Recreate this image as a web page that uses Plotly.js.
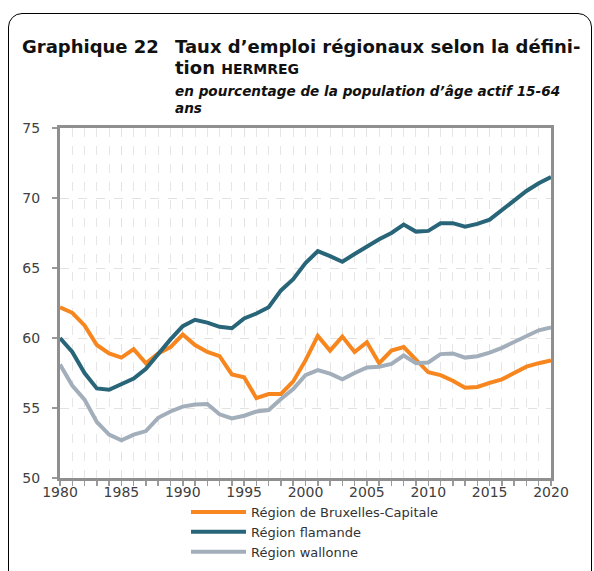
<!DOCTYPE html>
<html>
<head>
<meta charset="utf-8">
<script src="https://cdn.plot.ly/plotly-3.0.1.min.js"></script>
<style>
  html, body { margin: 0; padding: 0; background: #ffffff; }
  #wrap { position: relative; width: 594px; height: 571px; overflow: hidden; }
  #chart { position: absolute; left: 0; top: 0; width: 594px; height: 571px; }
  #frame { position: absolute; left: 8px; top: 13px; width: 582px; height: 640px;
           border: 1.5px solid #000; border-radius: 14px; pointer-events: none; z-index: 5; }
</style>
</head>
<body>
<div id="wrap">
  <div id="chart"></div>
  <div id="frame"></div>
</div>
<script>
// ---- data ----
const years = [1980,1981,1982,1983,1984,1985,1986,1987,1988,1989,
               1990,1991,1992,1993,1994,1995,1996,1997,1998,1999,
               2000,2001,2002,2003,2004,2005,2006,2007,2008,2009,
               2010,2011,2012,2013,2014,2015,2016,2017,2018,2019,2020];

const bruxelles = [62.2,61.8,60.9,59.5,58.9,58.6,59.2,58.2,58.9,59.35,
                   60.25,59.5,59.0,58.7,57.4,57.2,55.7,56.0,56.0,56.9,
                   58.4,60.15,59.1,60.1,59.0,59.7,58.2,59.1,59.35,58.4,
                   57.55,57.35,56.95,56.45,56.5,56.8,57.05,57.5,57.95,58.2,58.4];

const flamande = [60.0,59.0,57.5,56.4,56.3,56.7,57.1,57.8,58.9,59.9,
                  60.85,61.3,61.1,60.8,60.7,61.4,61.75,62.2,63.4,64.2,
                  65.35,66.2,65.85,65.45,66.0,66.55,67.05,67.5,68.1,67.6,
                  67.65,68.2,68.2,67.95,68.15,68.45,69.15,69.85,70.5,71.05,71.5];

const wallonne = [58.1,56.6,55.6,54.0,53.1,52.7,53.1,53.35,54.3,54.75,
                  55.1,55.25,55.28,54.55,54.25,54.45,54.75,54.85,55.65,56.35,
                  57.35,57.7,57.45,57.05,57.5,57.9,57.95,58.15,58.75,58.2,
                  58.25,58.85,58.9,58.6,58.7,58.95,59.3,59.7,60.15,60.55,60.75];

const seriesNames = ["Région de Bruxelles-Capitale", "Région flamande", "Région wallonne"];
const xTickVals = [1980,1985,1990,1995,2000,2005,2010,2015,2020];
const yTickVals = [50,55,60,65,70,75];

// ---- styling ----
const colors = ["#F7861E", "#286579", "#A3AEBB"];
const W = 594, H = 571;
const M = {l: 60, r: 43, t: 128, b: 93, autoexpand: false};
const PW = W - M.l - M.r, PH = H - M.t - M.b;
const px = x => (x - M.l) / PW;
const py = y => (H - M.b - y) / PH;

const traces = [bruxelles, flamande, wallonne].map((vals, i) => ({
  type: "scatter", mode: "lines", x: years, y: vals, name: seriesNames[i],
  line: {color: colors[i], width: 4}
}));

const titleFont = {family: "DejaVu Sans", size: 18, color: "#111"};
const subFont = {family: "DejaVu Sans", size: 13.6, color: "#111"};
function ann(text, x, y, font) {
  return {text: text, xref: "paper", yref: "paper", x: px(x), y: py(y),
          xanchor: "left", yanchor: "middle", showarrow: false, font: font,
          borderpad: 0};
}

const layout = {
  width: W, height: H,
  margin: M,
  paper_bgcolor: "#ffffff", plot_bgcolor: "#ffffff",
  showlegend: true,
  legend: {
    x: px(186), y: py(497), xanchor: "left", yanchor: "top",
    orientation: "v", tracegroupgap: 0, itemwidth: 55,
    font: {family: "DejaVu Sans", size: 13, color: "#333"},
    bgcolor: "rgba(0,0,0,0)"
  },
  xaxis: {
    range: [1980, 2020], tickvals: xTickVals, ticktext: xTickVals.map(String),
    showline: true, mirror: true, linecolor: "#8f8f8f", linewidth: 3,
    ticks: "outside", ticklen: 5, tickwidth: 1.5, tickcolor: "#9a9a9a",
    ticklabelstandoff: -6,
    showgrid: true, gridcolor: "#e2e2e2", griddash: "dash", gridwidth: 1,
    zeroline: false,
    tickfont: {family: "DejaVu Sans", size: 14, color: "#404040"},
    minor: {dtick: 1, tick0: 1980, ticks: "outside", ticklen: 5, tickwidth: 1.5,
            tickcolor: "#9a9a9a", showgrid: true, gridcolor: "#e6e6e6",
            griddash: "dash", gridwidth: 1}
  },
  yaxis: {
    range: [50, 75], tickvals: yTickVals, ticktext: yTickVals.map(String),
    showline: true, mirror: true, linecolor: "#8f8f8f", linewidth: 3,
    ticks: "outside", ticklen: 5, tickwidth: 1.5, tickcolor: "#9a9a9a",
    ticklabelstandoff: 9,
    showgrid: true, gridcolor: "#e2e2e2", griddash: "dash", gridwidth: 1,
    zeroline: false,
    tickfont: {family: "DejaVu Sans", size: 14, color: "#404040"}
  },
  annotations: [
    ann("<b>Graphique 22</b>", 21, 46, titleFont),
    ann("<b>Taux d’emploi régionaux selon la défini-</b>", 174, 46, titleFont),
    ann("<b>tion <span style='font-size:14px'>HERMREG</span></b>", 174, 68, titleFont),
    ann("<b><i>en pourcentage de la population d’âge actif 15-64</i></b>", 174, 91, subFont),
    ann("<b><i>ans</i></b>", 174, 108, subFont)
  ]
};

Plotly.newPlot("chart", traces, layout, {displayModeBar: false, staticPlot: true});
</script>
</body>
</html>
